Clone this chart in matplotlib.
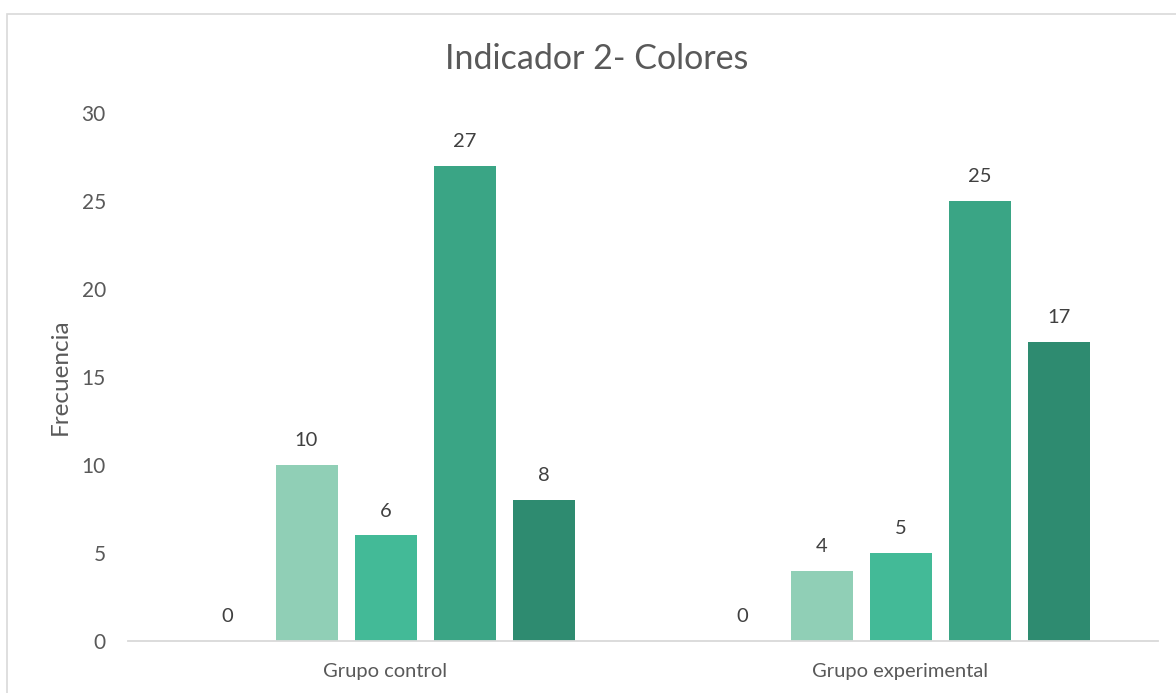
import matplotlib.pyplot as plt
from matplotlib.patches import Rectangle
import numpy as np

plt.rcParams['font.family'] = ['Lato', 'DejaVu Sans']

groups = ['Grupo control', 'Grupo experimental']
series_values = [
    [0, 0],
    [10, 4],
    [6, 5],
    [27, 25],
    [8, 17],
]
colors = ['#c8e8da', '#90cfb6', '#43ba97', '#3aa585', '#2e8b70']
yticks = [0, 5, 10, 15, 20, 25, 30]

W, H = 1176, 693
fig = plt.figure(figsize=(W / 100, H / 100), dpi=100)
ax = fig.add_axes([128 / W, 1 - 641 / H, (1158 - 128) / W, (641 - 113) / H])

# chart frame
fig.patches.append(Rectangle((7 / W, -0.1), 1.2, 1 - 14 / H + 0.1,
                             transform=fig.transFigure, fill=False,
                             edgecolor='#d9d9d9', linewidth=1.2))

x = np.arange(len(groups))
step = 79 / 515
width = 62 / 515
for i, vals in enumerate(series_values):
    pos = x + (i - 2) * step
    ax.bar(pos, vals, width, color=colors[i], zorder=2)
    for p, v in zip(pos, vals):
        ax.text(p, v + 0.9, str(v), ha='center', va='bottom',
                fontsize=14.5, color='#404040')

ax.set_xlim(-0.5, 1.5)
ax.set_ylim(0, 30)
ax.set_yticks(yticks)
ax.set_xticks(x)
ax.set_xticklabels(groups)
ax.tick_params(axis='y', length=0, pad=16, labelsize=15, labelcolor='#595959')
ax.tick_params(axis='x', length=0, pad=16, labelsize=14.5, labelcolor='#595959')
for s in ['top', 'right', 'left']:
    ax.spines[s].set_visible(False)
ax.spines['bottom'].set_color('#d9d9d9')
ax.spines['bottom'].set_linewidth(1.3)

ax.set_ylabel('Frecuencia', fontsize=17.5, color='#595959', labelpad=8)
fig.text(597 / W, 1 - 59 / H, 'Indicador 2- Colores', ha='center', va='center',
         fontsize=24.5, color='#595959')

fig.savefig('out.png', dpi=100)
